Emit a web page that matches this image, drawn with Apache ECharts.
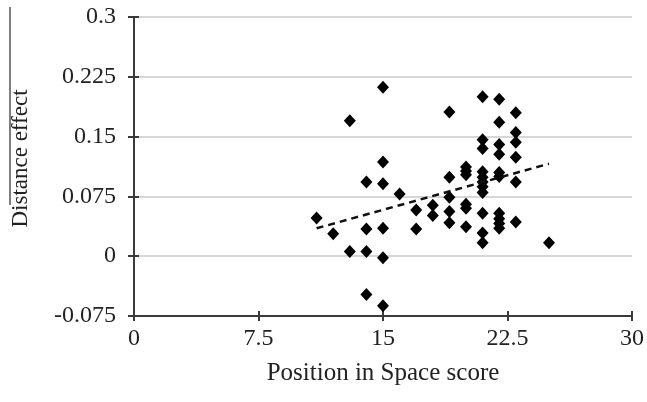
<!DOCTYPE html>
<html>
<head>
<meta charset="utf-8">
<script src="https://cdn.jsdelivr.net/npm/echarts@6/dist/echarts.min.js"></script>
<style>html,body{margin:0;padding:0;background:#fff;}#c{width:647px;height:402px;}</style>
</head>
<body>
<div id="c"></div>
<script>
const xScores = [11,12,13,13,14,14,14,14,15,15,15,15,15,15,16,17,17,18,18,19,19,19,19,19,20,20,20,20,20,20,21,21,21,21,21,21,21,21,21,21,21,22,22,22,22,22,22,22,22,22,22,23,23,23,23,23,23,25];
const yEffects = [0.048,0.028,0.17,0.006,0.093,0.034,0.006,-0.048,0.212,0.118,0.091,0.035,-0.002,-0.062,0.078,0.058,0.034,0.064,0.051,0.181,0.099,0.074,0.056,0.042,0.112,0.107,0.102,0.065,0.060,0.037,0.200,0.146,0.135,0.106,0.099,0.093,0.087,0.080,0.054,0.029,0.017,0.197,0.168,0.140,0.128,0.105,0.100,0.054,0.047,0.041,0.035,0.180,0.155,0.143,0.124,0.093,0.043,0.017];
const trendX = [11, 25];
const trendY = [0.035, 0.116];
const xTicks = [0, 7.5, 15, 22.5, 30];
const yTicks = [-0.075, 0, 0.075, 0.15, 0.225, 0.3];

const points = xScores.map((x, i) => [x, yEffects[i]]);
const trend = trendX.map((x, i) => [x, trendY[i]]);
const font = "'Liberation Serif', 'DejaVu Serif', serif";
const axisColor = '#3a3a3a';

const chart = echarts.init(document.getElementById('c'), null, {renderer: 'canvas'});
chart.setOption({
  animation: false,
  backgroundColor: '#fff',
  grid: {left: 134, right: 12, top: 17, bottom: 86},
  xAxis: [{
    type: 'value', min: xTicks[0], max: xTicks[xTicks.length - 1], interval: 7.5,
    name: 'Position in Space score', nameLocation: 'middle', nameGap: 45,
    nameTextStyle: {fontFamily: font, fontSize: 25, color: '#222'},
    axisLine: {onZero: false, lineStyle: {color: axisColor, width: 2}},
    axisTick: {show: true, length: 5, lineStyle: {color: axisColor, width: 2}},
    axisLabel: {fontFamily: font, fontSize: 24, color: '#222', margin: 11},
    splitLine: {show: false}
  }, {
    type: 'value', min: xTicks[0], max: xTicks[xTicks.length - 1], interval: 7.5, position: 'bottom',
    axisLine: {show: false, onZero: false}, axisLabel: {show: false}, splitLine: {show: false},
    axisTick: {show: true, inside: true, length: 5, lineStyle: {color: axisColor, width: 2}}
  }],
  yAxis: [{
    type: 'value', min: yTicks[0], max: yTicks[yTicks.length - 1], interval: 0.075,
    name: 'Distance effect', nameLocation: 'middle', nameGap: 102,
    nameTextStyle: {fontFamily: font, fontSize: 23, color: '#222', padding: [0, 0, 0, 16]},
    axisLine: {show: true, onZero: false, lineStyle: {color: axisColor, width: 2}},
    axisTick: {show: true, length: 6, lineStyle: {color: axisColor, width: 2}},
    axisLabel: {fontFamily: font, fontSize: 24, color: '#222', margin: 18},
    splitLine: {show: true, lineStyle: {color: '#c8c8c8', width: 1.5}}
  }, {
    type: 'value', min: yTicks[0], max: yTicks[yTicks.length - 1], interval: 0.075, position: 'left',
    axisLine: {show: false, onZero: false}, axisLabel: {show: false}, splitLine: {show: false},
    axisTick: {show: true, inside: true, length: 5, lineStyle: {color: axisColor, width: 2}}
  }],
  graphic: [{
    type: 'line', shape: {x1: 10, y1: 7, x2: 10, y2: 205},
    style: {stroke: '#000', lineWidth: 1}
  }],
  series: [{
    type: 'scatter', data: points, symbol: 'diamond', symbolSize: [12, 13],
    itemStyle: {color: '#000', opacity: 1}, z: 3
  }, {
    type: 'line', data: trend, symbol: 'none', z: 4,
    lineStyle: {color: '#111', width: 2.5, type: [7, 5]}
  }]
});
</script>
</body>
</html>
